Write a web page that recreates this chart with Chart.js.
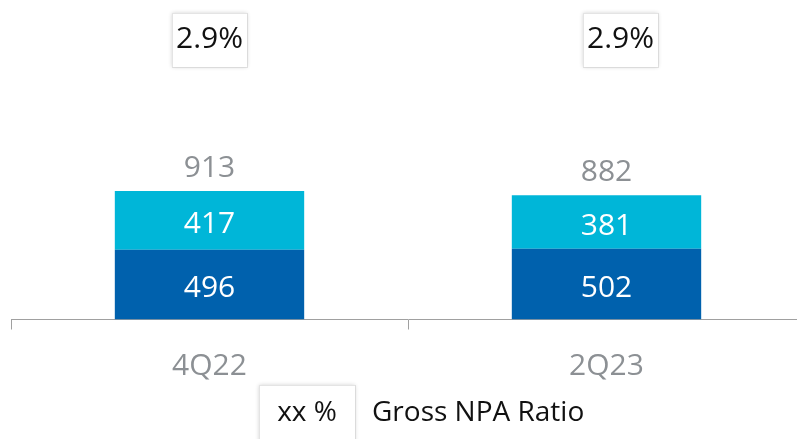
<!DOCTYPE html>
<html><head><meta charset="utf-8">
<script src="https://cdn.jsdelivr.net/npm/chart.js@4"></script>
<style>
html,body{margin:0;padding:0;background:#fff;overflow:hidden;}
#wrap{position:relative;width:805px;height:439px;}
</style></head>
<body>
<div id="wrap"><canvas id="c"></canvas></div>
<script>
const categories = ['4Q22', '2Q23'];
const lowerValues = [496, 502];
const upperValues = [417, 381];
const totals = [913, 882];
const npaRatios = ['2.9%', '2.9%'];
const legendKey = 'xx %';
const legendLabel = 'Gross NPA Ratio';

const FONT = "'Open Sans', 'Noto Sans', sans-serif";

const labelPlugin = {
  id: 'labels',
  afterDatasetsDraw(chart) {
    const ctx = chart.ctx;
    const m0 = chart.getDatasetMeta(0), m1 = chart.getDatasetMeta(1);
    ctx.save();
    ctx.textAlign = 'center';
    ctx.textBaseline = 'middle';
    categories.forEach((c, i) => {
      const b0 = m0.data[i], b1 = m1.data[i];
      ctx.font = '30px ' + FONT;
      ctx.fillStyle = '#ffffff';
      ctx.fillText(String(lowerValues[i]), b0.x, (b0.y + b0.base) / 2 + 4);
      ctx.fillText(String(upperValues[i]), b1.x, (b1.y + b1.base) / 2 + 4);
      ctx.fillStyle = '#8c9094';
      ctx.fillText(String(totals[i]), b1.x, b1.y - 23);
      // ratio box
      const bx = b1.x + (i === 1 ? 14 : 0);
      const w = 75, h = 54, top = 13;
      ctx.save();
      ctx.shadowColor = 'rgba(0,0,0,0.18)';
      ctx.shadowBlur = 4;
      ctx.fillStyle = '#fff';
      ctx.fillRect(bx - w / 2, top, w, h);
      ctx.restore();
      ctx.save();
      ctx.strokeStyle = '#c8c8c8';
      ctx.setLineDash([1, 1]);
      ctx.lineWidth = 1;
      ctx.strokeRect(Math.round(bx - w / 2) + 0.5, top + 0.5, w, h);
      ctx.restore();
      ctx.fillStyle = '#111';
      ctx.fillText(npaRatios[i], bx, top + 26);
    });
    // legend
    ctx.save();
    ctx.shadowColor = 'rgba(0,0,0,0.18)';
    ctx.shadowBlur = 4;
    ctx.fillStyle = '#fff';
    ctx.fillRect(259, 385, 96, 60);
    ctx.restore();
    ctx.save();
    ctx.strokeStyle = '#c8c8c8';
    ctx.setLineDash([1, 1]);
    ctx.strokeRect(259.5, 385.5, 96, 60);
    ctx.restore();
    ctx.fillStyle = '#111';
    ctx.font = '28px ' + FONT;
    ctx.textAlign = 'center';
    ctx.fillText(legendKey, 307, 413);
    ctx.textAlign = 'left';
    ctx.fillText(legendLabel, 372, 413);
    ctx.restore();
  }
};

new Chart(document.getElementById('c'), {
  type: 'bar',
  data: {
    labels: categories,
    datasets: [
      { data: lowerValues, backgroundColor: '#0061ad', barPercentage: 0.477, categoryPercentage: 1 },
      { data: upperValues, backgroundColor: '#00b6d8', barPercentage: 0.477, categoryPercentage: 1 }
    ]
  },
  options: {
    responsive: true,
    maintainAspectRatio: false,
    animation: false,
    layout: { padding: { left: 11, right: 0, top: 0, bottom: 35.5 } },
    plugins: { legend: { display: false }, tooltip: { enabled: false } },
    scales: {
      x: {
        stacked: true,
        grid: { offset: true, drawOnChartArea: false, drawTicks: true, tickLength: 10, color: '#a0a0a0' },
        border: { display: true, color: '#a0a0a0', width: 1 },
        ticks: { color: '#8c9094', padding: 19, font: { family: FONT, size: 30 } }
      },
      y: { stacked: true, display: false, min: 0, max: 2270 }
    }
  },
  plugins: [labelPlugin]
});
</script>
</body></html>
